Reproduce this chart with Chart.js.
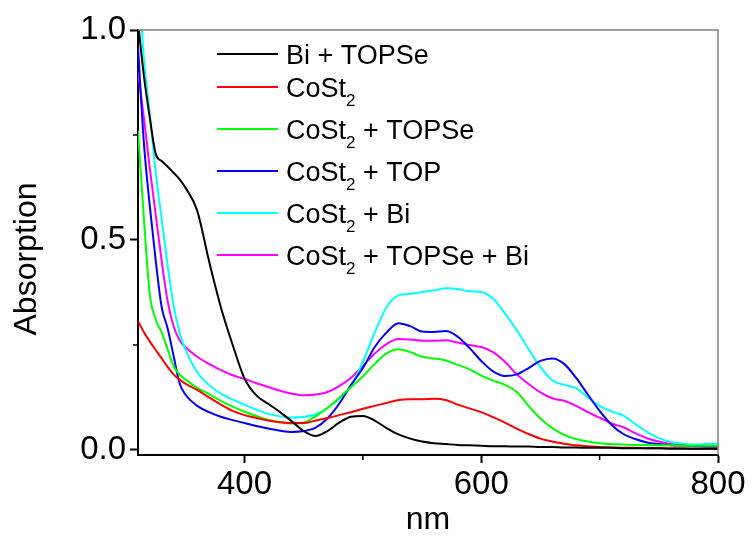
<!DOCTYPE html>
<html>
<head>
<meta charset="utf-8">
<script src="https://cdn.jsdelivr.net/npm/chart.js@4.4.1/dist/chart.umd.min.js"></script>
<style>
  html, body { margin: 0; padding: 0; background: #fff; }
  #wrap { width: 752px; height: 539px; }
</style>
</head>
<body>
<div id="wrap"><canvas id="absChart"></canvas></div>
<script>
// wavelength grid (nm)
const nm = [310, 315, 320, 325, 330, 335, 340, 345, 350, 360, 370, 380, 390, 400, 410, 420, 430, 440, 450,
    460, 470, 480, 490, 500, 510, 520, 530, 540, 550, 560, 570, 580, 590, 600, 610, 620, 630, 640, 650,
    660, 670, 680, 690, 700, 710, 720, 730, 740, 750, 760, 770, 780, 790, 800];

const biTopse = [1.02, 0.89, 0.79, 0.705, 0.688, 0.675, 0.66, 0.645, 0.625, 0.57, 0.45, 0.34, 0.25, 0.17, 0.13, 0.11, 0.09, 0.068, 0.045,
    0.033, 0.045, 0.065, 0.079, 0.081, 0.07, 0.052, 0.037, 0.027, 0.02, 0.016, 0.014, 0.012, 0.011, 0.01, 0.009, 0.009, 0.008, 0.008, 0.007,
    0.007, 0.006, 0.006, 0.005, 0.005, 0.005, 0.004, 0.004, 0.004, 0.004, 0.003, 0.003, 0.003, 0.003, 0.003];
const cost2 = [0.307, 0.28, 0.258, 0.238, 0.218, 0.198, 0.18, 0.168, 0.158, 0.143, 0.125, 0.108, 0.093, 0.083, 0.076, 0.07, 0.066, 0.064, 0.064,
    0.07, 0.076, 0.083, 0.09, 0.098, 0.105, 0.112, 0.119, 0.121, 0.121, 0.122, 0.119, 0.108, 0.099, 0.09, 0.078, 0.065, 0.051, 0.038, 0.027,
    0.02, 0.015, 0.011, 0.009, 0.007, 0.006, 0.005, 0.005, 0.004, 0.004, 0.004, 0.004, 0.003, 0.003, 0.003];
const cost2Topse = [0.76, 0.55, 0.37, 0.31, 0.28, 0.24, 0.2, 0.18, 0.168, 0.148, 0.133, 0.117, 0.103, 0.091, 0.081, 0.072, 0.066, 0.063, 0.065,
    0.08, 0.1, 0.124, 0.15, 0.175, 0.205, 0.23, 0.24, 0.233, 0.222, 0.218, 0.213, 0.203, 0.192, 0.177, 0.165, 0.155, 0.138, 0.105, 0.075,
    0.052, 0.036, 0.026, 0.02, 0.016, 0.014, 0.013, 0.012, 0.012, 0.011, 0.011, 0.01, 0.01, 0.01, 0.01];
const cost2Top = [0.96, 0.73, 0.58, 0.45, 0.34, 0.29, 0.225, 0.16, 0.132, 0.105, 0.09, 0.079, 0.071, 0.064, 0.057, 0.051, 0.046, 0.043, 0.045,
    0.053, 0.075, 0.11, 0.155, 0.195, 0.245, 0.28, 0.302, 0.295, 0.282, 0.281, 0.283, 0.27, 0.243, 0.212, 0.187, 0.176, 0.18, 0.195, 0.212,
    0.218, 0.205, 0.172, 0.132, 0.093, 0.06, 0.038, 0.026, 0.018, 0.014, 0.011, 0.01, 0.009, 0.008, 0.008];
const cost2Bi = [1.15, 0.93, 0.8, 0.66, 0.55, 0.44, 0.345, 0.28, 0.24, 0.185, 0.155, 0.134, 0.12, 0.108, 0.096, 0.086, 0.08, 0.077, 0.079,
    0.085, 0.1, 0.122, 0.152, 0.21, 0.28, 0.34, 0.368, 0.372, 0.376, 0.38, 0.385, 0.383, 0.378, 0.376, 0.36, 0.325, 0.285, 0.24, 0.197,
    0.166, 0.155, 0.147, 0.125, 0.105, 0.092, 0.082, 0.062, 0.043, 0.028, 0.019, 0.015, 0.013, 0.014, 0.015];
const cost2TopseBi = [0.9, 0.79, 0.67, 0.56, 0.45, 0.355, 0.295, 0.262, 0.245, 0.222, 0.205, 0.19, 0.178, 0.169, 0.159, 0.15, 0.141, 0.134, 0.13,
    0.132, 0.138, 0.152, 0.172, 0.2, 0.23, 0.252, 0.264, 0.263, 0.26, 0.26, 0.261, 0.256, 0.25, 0.245, 0.233, 0.21, 0.18, 0.157, 0.137,
    0.123, 0.117, 0.105, 0.09, 0.077, 0.063, 0.054, 0.04, 0.028, 0.02, 0.014, 0.012, 0.01, 0.009, 0.008];

const seriesNames = ['Bi + TOPSe', 'CoSt₂', 'CoSt₂ + TOPSe', 'CoSt₂ + TOP', 'CoSt₂ + Bi', 'CoSt₂ + TOPSe + Bi'];
const seriesValues = [biTopse, cost2, cost2Topse, cost2Top, cost2Bi, cost2TopseBi];
const seriesColors = ['#000000', '#ff0000', '#00ff00', '#0000ff', '#00ffff', '#ff00ff'];

const xTicks = [400, 600, 800];
const xMinor = [500, 700];
const yTicks = [0, 0.5, 1.0];
const yMinor = [0.25, 0.75];

const FONT = 'Arial, "Liberation Sans", sans-serif';

const datasets = seriesValues.map((vals, i) => ({
    label: seriesNames[i],
    data: vals.map((v, j) => ({x: nm[j], y: v})),
    borderColor: seriesColors[i],
    borderWidth: 2,
    pointRadius: 0,
    fill: false,
    cubicInterpolationMode: 'monotone'
}));

// frame on top/right, minor ticks, y title
const framePlugin = {
    id: 'frame',
    afterDraw(chart) {
        const {ctx, chartArea: a, scales: {x, y}} = chart;
        ctx.save();
        ctx.strokeStyle = '#808080';
        ctx.lineWidth = 1.5;
        ctx.beginPath();
        ctx.moveTo(a.left, a.top);
        ctx.lineTo(a.right, a.top);
        ctx.lineTo(a.right, a.bottom);
        ctx.stroke();
        ctx.strokeStyle = '#000';
        ctx.lineWidth = 1.5;
        ctx.beginPath();
        xMinor.forEach(v => {
            const px = x.getPixelForValue(v);
            ctx.moveTo(px, a.bottom);
            ctx.lineTo(px, a.bottom + 5);
        });
        yMinor.forEach(v => {
            const py = y.getPixelForValue(v);
            ctx.moveTo(a.left, py);
            ctx.lineTo(a.left - 5, py);
        });
        ctx.stroke();

        // y axis title, a bit below the plot centre as in the original
        ctx.translate(27.5, 259);
        ctx.rotate(-Math.PI / 2);
        ctx.fillStyle = '#000';
        ctx.font = '32px ' + FONT;
        ctx.textAlign = 'center';
        ctx.textBaseline = 'middle';
        ctx.fillText('Absorption', 0, 0);
        ctx.restore();
    }
};

// legend with subscripted 2
const legendPlugin = {
    id: 'subLegend',
    afterDatasetsDraw(chart) {
        const {ctx} = chart;
        const rows = [54, 87, 129, 171, 213, 255];
        ctx.save();
        seriesNames.forEach((name, i) => {
            const ly = rows[i];
            ctx.strokeStyle = seriesColors[i];
            ctx.lineWidth = 2;
            ctx.beginPath();
            ctx.moveTo(217, ly);
            ctx.lineTo(278, ly);
            ctx.stroke();
            ctx.fillStyle = '#000';
            ctx.textBaseline = 'alphabetic';
            let tx = 286;
            const base = ly + 10;
            const parts = name.split('₂');
            parts.forEach((p, k) => {
                ctx.font = '27px ' + FONT;
                ctx.fillText(p, tx, base);
                tx += ctx.measureText(p).width;
                if (k < parts.length - 1) {
                    ctx.font = '17px ' + FONT;
                    ctx.fillText('2', tx, base + 9);
                    tx += ctx.measureText('2').width;
                }
            });
        });
        ctx.restore();
    }
};

const ctx = document.getElementById('absChart').getContext('2d');
const chart = new Chart(ctx, {
    type: 'line',
    data: {datasets: datasets},
    options: {
        responsive: true,
        maintainAspectRatio: false,
        animation: false,
        layout: {padding: {top: 30, right: 34, left: 0, bottom: 0}},
        plugins: {
            legend: {display: false},
            tooltip: {enabled: false}
        },
        scales: {
            x: {
                type: 'linear',
                min: 310,
                max: 800,
                afterBuildTicks: s => { s.ticks = xTicks.map(v => ({value: v})); },
                afterFit: s => { s.height = 84; },
                grid: {drawOnChartArea: false, tickLength: 8, tickWidth: 2, tickColor: '#000'},
                border: {color: '#000', width: 2},
                ticks: {color: '#000', font: {family: FONT, size: 33}, padding: 2, maxRotation: 0},
                title: {display: true, text: 'nm', color: '#000', font: {family: FONT, size: 32}, padding: 0}
            },
            y: {
                type: 'linear',
                min: -0.012,
                max: 1.0,
                afterBuildTicks: s => { s.ticks = yTicks.map(v => ({value: v})); },
                afterFit: s => { s.width = 138; },
                grid: {drawOnChartArea: false, tickLength: 8, tickWidth: 2, tickColor: '#000'},
                border: {color: '#000', width: 2},
                ticks: {color: '#000', font: {family: FONT, size: 33}, padding: 4,
                    callback: v => v.toFixed(1)},
                title: {display: false}
            }
        }
    },
    plugins: [framePlugin, legendPlugin]
});
</script>
</body>
</html>
